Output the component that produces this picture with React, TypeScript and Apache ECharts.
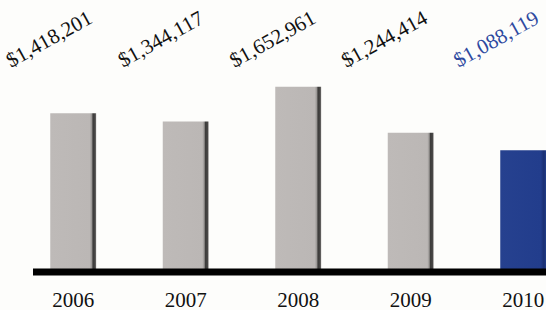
import React, { useEffect, useRef } from "react";
import * as echarts from "echarts";

const years = ["2006", "2007", "2008", "2009", "2010"];
const values = [1418201, 1344117, 1652961, 1244414, 1088119];
const highlightIndex = 4;

const fmt = (v: number) => "$" + v.toLocaleString("en-US");

export default function App() {
  const ref = useRef<HTMLDivElement>(null);
  useEffect(() => {
    if (!ref.current) return;
    const chart = echarts.init(ref.current, undefined, { renderer: "svg" });
    const grayGrad = new echarts.graphic.LinearGradient(0, 0, 1, 0, [
      { offset: 0, color: "#bebab8" },
      { offset: 0.86, color: "#bbb7b5" },
      { offset: 0.9, color: "#9a9795" },
      { offset: 0.93, color: "#3c3b3a" },
      { offset: 0.98, color: "#4a4948" },
      { offset: 1, color: "#b5b2b0" },
    ]);
    const blueGrad = new echarts.graphic.LinearGradient(0, 0, 1, 0, [
      { offset: 0, color: "#26418f" },
      { offset: 0.88, color: "#223d8c" },
      { offset: 0.95, color: "#1a2f72" },
      { offset: 1, color: "#23408e" },
    ]);
    chart.setOption({
      animation: false,
      backgroundColor: "#fdfdfb",
      grid: [
        { left: 17, width: 562.5, top: 48, bottom: 38, outerBoundsMode: "none", containLabel: false },
        { left: -7, width: 559, top: 62, bottom: 38, outerBoundsMode: "none", containLabel: false },
      ],
      xAxis: [
        {
          type: "category",
          gridIndex: 0,
          data: years,
          axisLine: { show: false },
          axisTick: { show: false },
          axisLabel: {
            margin: 17,
            fontFamily: "Liberation Serif",
            fontSize: 21,
            color: "#111",
          },
        },
        {
          type: "category",
          gridIndex: 1,
          position: "top",
          data: values.map(fmt),
          axisLine: { show: false },
          axisTick: { show: false },
          axisLabel: {
            rotate: 29,
            margin: 23,
            align: "center",
            verticalAlign: "middle",
            fontFamily: "Liberation Serif",
            fontSize: 21,
            color: (_v: any, i: number) => (i === highlightIndex ? "#2e4aa0" : "#111"),
          },
        },
      ],
      yAxis: [
        { type: "value", gridIndex: 0, min: 0, max: 2000000, show: false },
        { type: "value", gridIndex: 1, min: 0, max: 1, show: false },
      ],
      series: [
        {
          type: "bar",
          xAxisIndex: 0,
          yAxisIndex: 0,
          barWidth: 46,
          data: values.map((v, i) => ({
            value: v,
            itemStyle: { color: i === highlightIndex ? blueGrad : grayGrad },
          })),
        },
      ],
      graphic: [
        {
          type: "line",
          z: 100,
          shape: { x1: 33, y1: 272, x2: 546, y2: 272 },
          style: { stroke: "#000", lineWidth: 7 },
        },
      ],
    });
    return () => chart.dispose();
  }, []);
  return (
    <div
      ref={ref}
      style={{ position: "absolute", left: 0, top: 0, width: 546, height: 310 }}
    />
  );
}
